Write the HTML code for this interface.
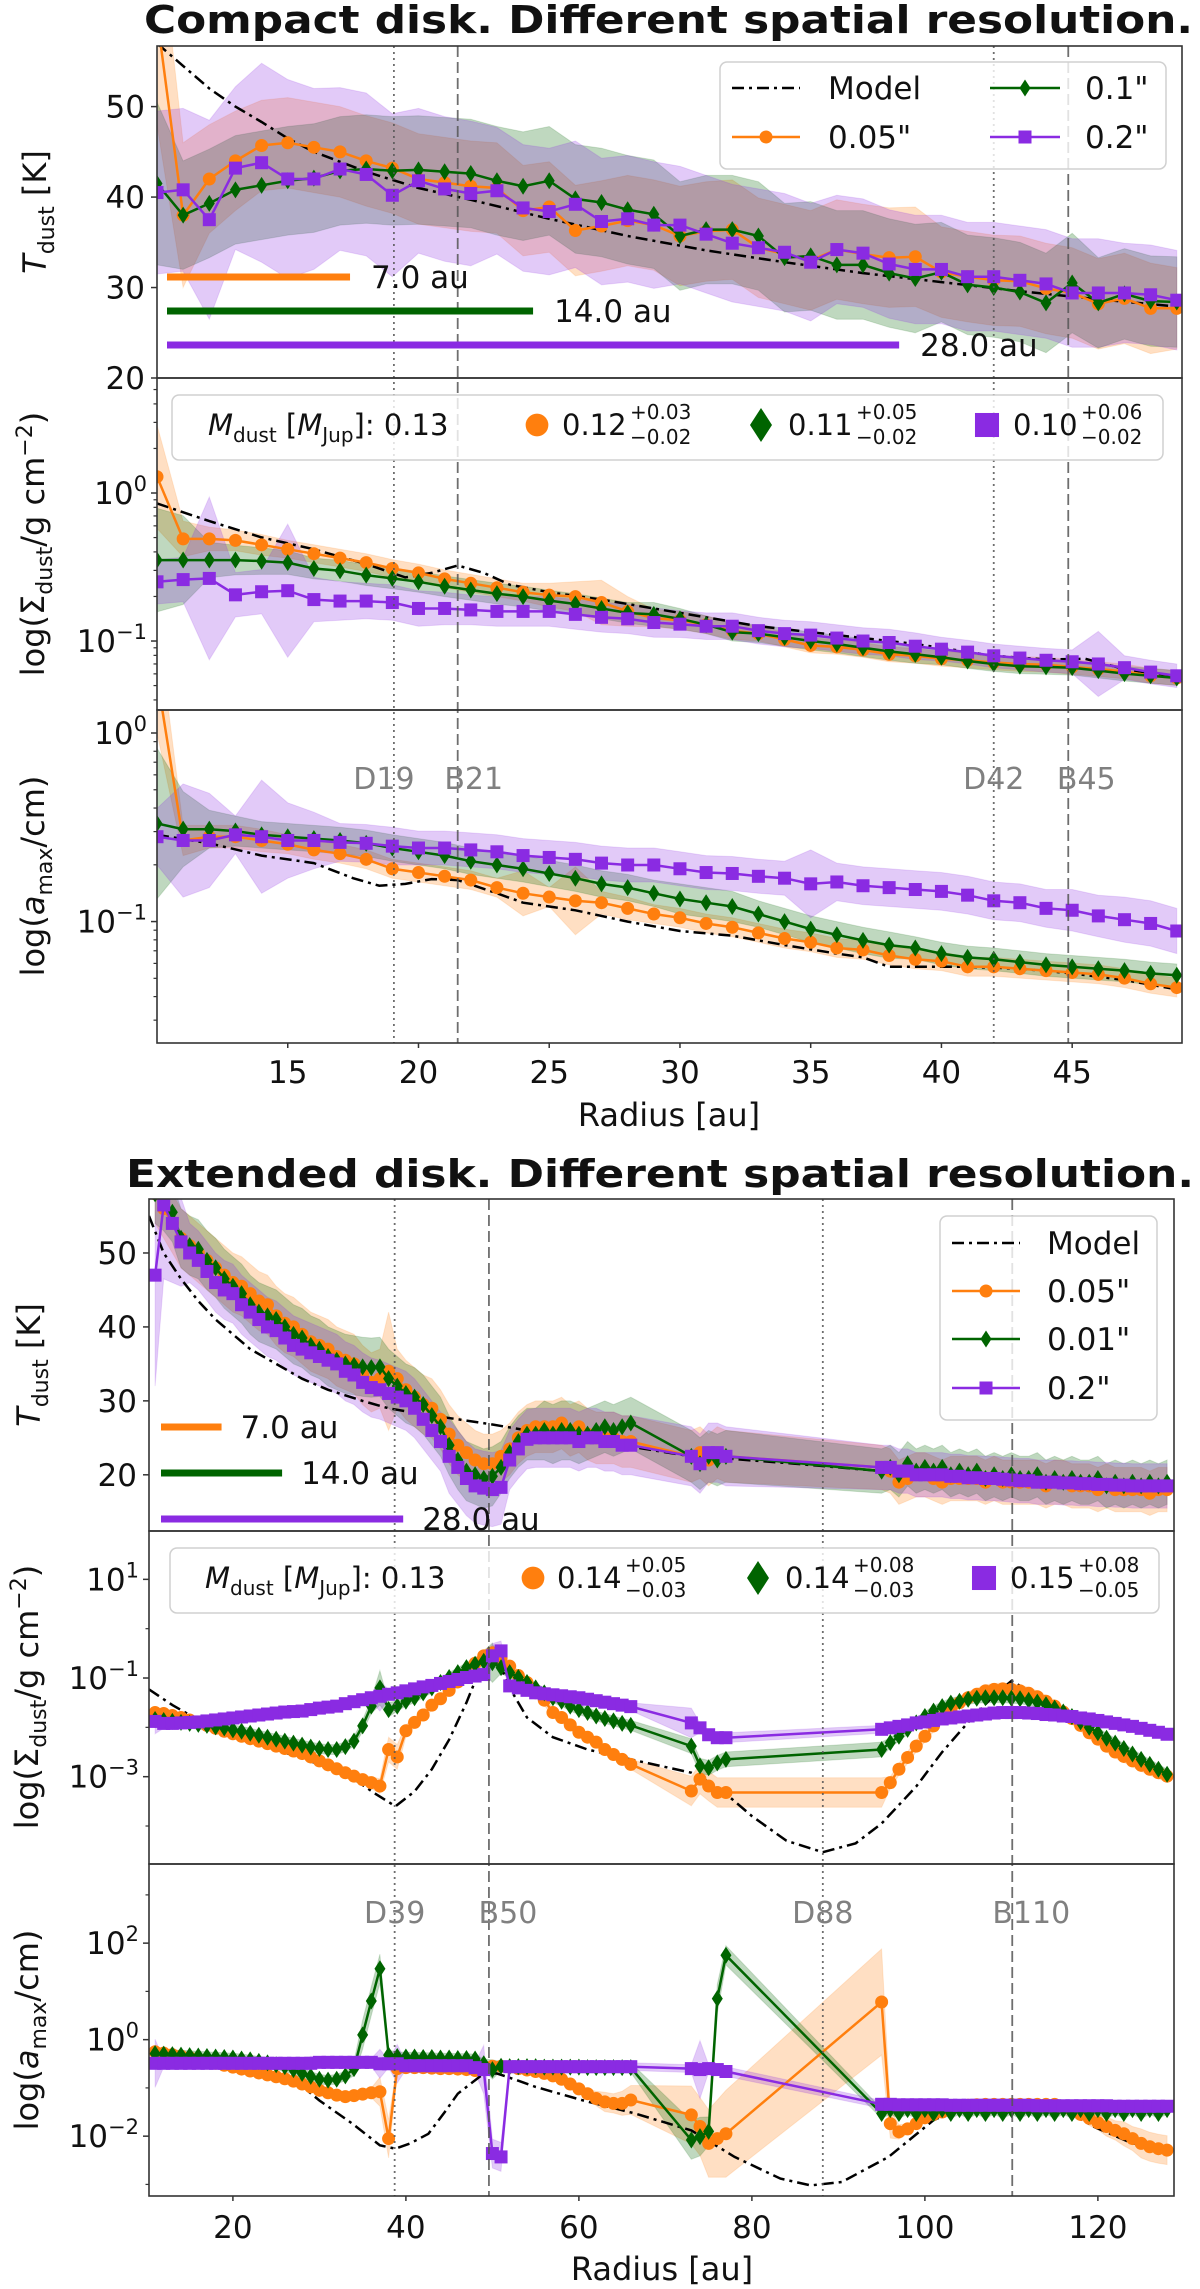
<!DOCTYPE html>
<html><head><meta charset="utf-8">
<style>
body{margin:0;background:#fff}
svg{display:block}
text{font-family:"DejaVu Sans","Liberation Sans",sans-serif;fill:#111}
</style></head>
<body>
<svg id="fig" width="1200" height="2289" viewBox="0 0 1200 2289" xmlns="http://www.w3.org/2000/svg">
  <text x="144" y="33" font-size="38" font-weight="bold" textLength="1049" lengthAdjust="spacingAndGlyphs">Compact disk. Different spatial resolution.</text>
  <text x="126" y="1187" font-size="38" font-weight="bold" textLength="1068" lengthAdjust="spacingAndGlyphs">Extended disk. Different spatial resolution.</text>
</svg>
<script>
// ================= DATA: compact disk =================
const rTop = [10,11,12,13,14,15,16,17,18,19,20,21,22,23,24,25,26,27,28,29,30,31,32,33,34,35,36,37,38,39,40,41,42,43,44,45,46,47,48,49];
const tTopOrange = [60,38,42,44,45.7,46,45.5,45,44,43.2, 42,41.6,41.2,41,38.5,38.9,36.3,36.8,37.4,36.9, 35.7,36.2,36.4,34.4,33.7,33.0,34.2,33.7,33.3,33.4, 31.7,31.2,30.8,30.7,29.9,29.4,28.2,28.8,27.7,27.7];
const tTopGreen = [41.5,38,39.3,40.8,41.3,41.8,42.1,42.9,43.1,42.9, 43,42.8,42.6,41.8,41.2,41.8,39.8,39.4,38.6,38.1, 35.7,36.4,36.4,35.7,33.3,33.5,32.5,32.5,31.6,31.0, 31.7,30.3,30.0,29.5,28.3,30.5,28.3,29.3,28.5,28.4];
const tTopPurple = [40.5,40.8,37.5,43.2,43.8,42,42,43.1,42.5,40.2, 41.8,40.9,40.4,40.7,38.8,38.4,39.2,37.3,37.6,36.9, 36.9,35.9,34.9,34.4,33.9,32.8,34.2,33.8,32.6,32.0, 32.0,31.2,31.2,30.8,30.4,29.4,29.4,29.4,29.2,28.6];
const tTopOrangeErr = [12,8,6,5.5,5,5,5,5,5,5, 5,5,5,5,5,5,5,5,5,5, 5.5,5.5,5.5,5.5,5.5,5.5,5.5,5.5,5.5,5.5, 5,5,5,5,5,5,5,5,5,4.5];
const tTopGreenErr = [9,6,6,6,6,6,6,6,6,6, 6,6,6,6,6,6,6,6,6,6, 6,6,6,6,6,6,6,6,6,6, 5.5,5.5,5.5,5.5,5.5,5.5,5,5,5,5];
const tTopPurpleErr = [9,9,11,9,11,11,10,9,9,9, 8,8,8,7,7,7,7,7,7,7, 6.5,6.5,6.5,6.5,6.5,6.5,6,6,6,6, 6,6,6,6,6,6,6,5.5,5.5,5.5];
const rTopModelT = [10,11,12,13,14,15,16,18,20,22,25,28,31,34,37,40,43,46,49];
const tTopModel = [57,54.5,52,50,48.3,46.5,45,42.8,41,39.7,37.6,35.7,34.1,32.8,31.6,30.6,29.6,28.7,27.9];

// log10(Sigma_dust / g cm^-2)
const sTopOrange = [0.11,-0.31,-0.31,-0.32,-0.35,-0.38,-0.41,-0.44,-0.47,-0.51, -0.54,-0.58,-0.61,-0.64,-0.67,-0.69,-0.70,-0.74,-0.80,-0.845, -0.86,-0.89,-0.93,-0.95,-0.99,-1.03,-1.04,-1.06,-1.09,-1.10, -1.12,-1.13,-1.145,-1.155,-1.16,-1.175,-1.19,-1.205,-1.235,-1.25];
const sTopGreen = [-0.453,-0.453,-0.453,-0.453,-0.46,-0.47,-0.51,-0.525,-0.555,-0.577, -0.6,-0.63,-0.655,-0.68,-0.70,-0.727,-0.75,-0.78,-0.81,-0.82, -0.85,-0.89,-0.94,-0.95,-0.975,-1.0,-1.02,-1.045,-1.07,-1.09, -1.11,-1.135,-1.155,-1.17,-1.175,-1.18,-1.2,-1.22,-1.235,-1.25];
const sTopPurple = [-0.6,-0.585,-0.577,-0.688,-0.667,-0.66,-0.72,-0.73,-0.73,-0.74, -0.78,-0.78,-0.79,-0.80,-0.80,-0.80,-0.82,-0.84,-0.85,-0.875, -0.886,-0.9,-0.9,-0.93,-0.95,-0.96,-0.98,-1.0,-1.01,-1.035, -1.055,-1.075,-1.1,-1.115,-1.13,-1.14,-1.155,-1.18,-1.21,-1.235];
const sTopOrangeErr = [0.35,0.12,0.08,0.07,0.07,0.06,0.06,0.06,0.06,0.06, 0.06,0.06,0.06,0.06,0.06,0.08,0.1,0.15,0.1,0.06, 0.06,0.06,0.06,0.05,0.05,0.05,0.05,0.05,0.05,0.05, 0.05,0.05,0.05,0.05,0.05,0.05,0.05,0.05,0.05,0.05];
const sTopGreenErr = [0.35,0.3,0.12,0.1,0.09,0.08,0.07,0.07,0.07,0.07, 0.07,0.07,0.07,0.07,0.07,0.07,0.07,0.07,0.07,0.08, 0.07,0.06,0.06,0.06,0.06,0.06,0.06,0.06,0.06,0.06, 0.05,0.05,0.05,0.05,0.05,0.05,0.05,0.05,0.05,0.05];
const sTopPurpleErr = [0.15,0.15,0.55,0.15,0.15,0.45,0.15,0.13,0.12,0.12, 0.12,0.11,0.1,0.1,0.1,0.1,0.1,0.1,0.1,0.1, 0.09,0.09,0.09,0.09,0.09,0.09,0.09,0.09,0.09,0.09, 0.08,0.08,0.08,0.08,0.08,0.08,0.22,0.08,0.08,0.08];
const rTopModelS = [10,12,14,16,18,19.5,20.5,21.5,22.5,23.5,25,27,30,33,36,39,42,44,45.5,47,49];
const sTopModel = [-0.07,-0.19,-0.3,-0.38,-0.48,-0.57,-0.54,-0.49,-0.54,-0.62,-0.67,-0.72,-0.81,-0.9,-0.96,-1.02,-1.1,-1.125,-1.12,-1.19,-1.245];

// log10(a_max / cm)
const aTopOrange = [0.3,-0.57,-0.55,-0.55,-0.57,-0.59,-0.62,-0.64,-0.67,-0.72, -0.74,-0.76,-0.78,-0.82,-0.85,-0.87,-0.89,-0.90,-0.93,-0.96, -0.98,-1.01,-1.03,-1.06,-1.09,-1.11,-1.14,-1.15,-1.18,-1.2, -1.21,-1.24,-1.24,-1.25,-1.26,-1.27,-1.28,-1.30,-1.33,-1.35];
const aTopGreen = [-0.48,-0.51,-0.51,-0.52,-0.54,-0.55,-0.56,-0.57,-0.585,-0.61, -0.63,-0.65,-0.68,-0.70,-0.72,-0.745,-0.77,-0.80,-0.82,-0.85, -0.88,-0.90,-0.92,-0.96,-1.0,-1.04,-1.07,-1.10,-1.125,-1.14, -1.17,-1.19,-1.2,-1.215,-1.23,-1.24,-1.25,-1.26,-1.275,-1.285];
const aTopPurple = [-0.55,-0.57,-0.57,-0.54,-0.55,-0.57,-0.57,-0.58,-0.585,-0.6, -0.61,-0.61,-0.62,-0.63,-0.65,-0.66,-0.67,-0.69,-0.70,-0.70, -0.72,-0.74,-0.745,-0.76,-0.77,-0.80,-0.79,-0.81,-0.82,-0.83, -0.84,-0.86,-0.89,-0.9,-0.93,-0.94,-0.97,-0.99,-1.01,-1.05];
const aTopOrangeErr = [0.3,0.08,0.06,0.06,0.06,0.05,0.05,0.05,0.05,0.05, 0.05,0.05,0.05,0.05,0.12,0.05,0.18,0.06,0.06,0.05, 0.05,0.05,0.05,0.05,0.05,0.05,0.05,0.05,0.05,0.05, 0.05,0.05,0.05,0.05,0.05,0.05,0.05,0.05,0.05,0.05];
const aTopGreenErr = [0.4,0.2,0.1,0.08,0.07,0.07,0.07,0.07,0.07,0.07, 0.07,0.07,0.07,0.07,0.07,0.07,0.07,0.07,0.07,0.07, 0.08,0.08,0.08,0.07,0.07,0.07,0.07,0.07,0.07,0.06, 0.06,0.06,0.06,0.06,0.06,0.06,0.06,0.06,0.06,0.06];
const aTopPurpleErr = [0.15,0.3,0.25,0.1,0.3,0.2,0.15,0.1,0.1,0.1, 0.09,0.09,0.09,0.09,0.09,0.09,0.09,0.09,0.09,0.09, 0.09,0.09,0.09,0.09,0.09,0.18,0.1,0.1,0.1,0.1, 0.1,0.1,0.1,0.1,0.1,0.11,0.11,0.12,0.12,0.12];
const rTopModelA = [10,12,14,16,17.5,18.5,19.5,20.5,21.5,23,24,26,28,30,32,34,36,37,38,41,43,45,47,49];
const aTopModel = [-0.54,-0.585,-0.65,-0.69,-0.77,-0.81,-0.80,-0.775,-0.78,-0.85,-0.9,-0.94,-1.0,-1.05,-1.075,-1.125,-1.17,-1.19,-1.24,-1.24,-1.25,-1.275,-1.31,-1.36];

const beamTop = [7, 14, 28];
const beamTopLabels = ['7.0 au','14.0 au','28.0 au'];
const gapTopR = [19.06, 21.5, 42, 44.85];
const gapTopLabels = ['D19','B21','D42','B45'];
const xTicksTop = [15,20,25,30,35,40,45];
const yTicksTopT = [20,30,40,50];
const yTicksTopS = [0,-1];
const yTicksTopA = [0,-1];

// ================= DATA: extended disk =================
const rBot = [11,12,13,14,15,16,17,18,19,20, 21,22,23,24,25,26,27,28,29,30, 31,32,33,34,35,36,37,38,39,40, 41,42,43,44,45,46,47,48,49,50, 51,52,53,54,55,56,57,58,59,60, 61,62,63,64,65,66, 73,74,75,76,77, 95,96,97,98,99,100,101,102,103,104, 105,106,107,108,109,110,111,112,113,114, 115,116,117,118,119,120,121,122,123,124, 125,126,127,128];
const tBotOrange = [58,56,54,52,51,50,49,48,47,46, 45.5,44.5,43.5,43,41.5,40.5,40,39,38,37.5, 37,36,35.5,35,33.5,32.5,33,34,33,31.5, 30.5,29.5,29,27.5,25.5,24,23,22,21.5,21.5, 22.5,23.5,25,26,26.5,26.5,26.5,27,26,26.5, 25.5,25,25,25,24.5,24.5, 22.5,23,22,23,22.5, 21,20.5,19,19.5,20,20,19.5,19,19.5,19.5, 19.5,19.5,19,19.5,19,19,19,19,19,18.5, 19,19,18.5,18.5,18.5,18,18.5,18,18,18, 18,17.5,18,18];
const tBotGreen = [58,57,55.5,52,51,50.5,49,48,46.5,45.5, 44.5,43,42,41.5,41,40,39,38.5,37.5,37, 36,35.5,35,34.8,34.6,34.5,34.6,33,32,31, 30.5,29.5,28,26.5,24,22,20.5,20,19.5,19.8, 21,23,24.5,25.5,25.5,26,25.5,26,26,25.5, 25.5,26,26.5,26,26.5,27, 22.5,21.5,22.5,22,22.5, 20.5,21,20,21.5,20.5,21,20.5,21,20,20.5, 20,20.5,19.5,20,19.5,20,19.5,19.5,20,19, 19.5,19,19.5,19,19,19.5,18.5,19,18.5,19, 18.5,19,18.5,19];
const tBotPurple = [47,56.5,54,51.5,50,49,47.5,46,45,44.5, 43,42,41,40,39.5,38.5,37.5,37,36.5,36, 35.5,35,34,33.5,32.5,31.8,31.5,31,30.5,30, 29,27.5,26,24.5,22.5,21,19.5,18.5,18.2,18, 18.3,22,23.5,24.8,25,25,25,25,25,24.5, 25,25,24.5,24.5,24,24, 22.5,21.5,23,23,22.5, 21,21,20.5,20.5,20,20,20,20,19.8,19.8, 19.6,19.6,19.5,19.5,19.4,19.3,19.2,19.2,19,19, 19,18.9,18.9,18.8,18.8,18.7,18.7,18.6,18.6,18.5, 18.5,18.5,18.5,18.5];
const tBotOrangeErr = [4,4,4,4,4,4,4,4,4,4, 4,4,4,4,4,4,4,4,4,4, 4,4,4,4,4,4,4,8,4,4, 4,4,4,4,4,4,4,4,4,4, 3.5,3.5,3.5,3.5,3.5,3.5,3.5,3.5,3.5,3.5, 3.5,3.5,3.5,3.5,3.5,3.5, 3.5,3.5,3.5,3.5,3.5, 3,3,3,3,3,3,3,3,3,3, 3,3,3,3,3,3,3,3,3,3, 3,3,3,3,3,3,3,3,3,3, 3,3,3,3];
const tBotGreenErr = [4,4,4,4,4,4,4,4,4,4, 4,4,4,4,4,4,4,4,4,4, 4,4,4,4,4,4,4,4,4,4, 4,4,4,4,4,4,4,4,4,4, 3.5,3.5,3.5,3.5,3.5,4,4,4,4,4, 3.5,3.5,3.5,3.5,3.5,3.5, 3.5,3.5,3.5,3.5,3.5, 3,3,3,3,3,3,3,3,3,3, 3,3,3,3,3,3,3,3,3,3, 3,3,3,3,3,3,3,3,3,3, 3,3,3,3];
const tBotPurpleErr = [15,10,8,6,4,4,4,4,4,4, 4,4,4,4,4,4,4,4,4,4, 4,4,4,4,4,4,4,4,4,4, 4,4,4,4,5,5,5,5,5,5, 5,4,4,4,4,4,4,4,4,4, 4,4,4,4,4,4, 4,4,4,4,4, 3,3,3,3,3,3,3,3,3,3, 3,3,3,3,3,3,3,3,3,3, 3,3,3,3,3,3,3,3,3,3, 3,3,3,3];
const rBotModelT = [10.3,12,14,16,18,20,22,25,28,31,35,38,42,46,50,54,60,66,73,76,85,95,105,115,128.8];
const tBotModel = [55,50,46.5,43.5,41,39,37,35,33,31.5,30,29,28.2,27.5,26.8,26,25,23.8,22.5,22.3,21.5,20.5,19.8,19.3,18.8];

const sBotOrange = [-1.70,-1.72,-1.76,-1.80,-1.85,-1.90,-1.96,-2.02,-2.08,-2.13, -2.18,-2.23,-2.28,-2.33,-2.38,-2.43,-2.48,-2.53,-2.60,-2.68, -2.76,-2.84,-2.92,-2.99,-3.06,-3.12,-3.19,-2.45,-2.6,-2.07, -1.9,-1.75,-1.55,-1.42,-1.25,-1.08,-0.9,-0.7,-0.55,-0.49, -0.59,-0.76,-0.95,-1.09,-1.3,-1.45,-1.7,-1.8,-1.95,-2.1, -2.2,-2.3,-2.45,-2.55,-2.65,-2.75, -3.29,-3.05,-3.19,-3.32,-3.32, -3.32,-3.12,-2.85,-2.61,-2.38,-2.18,-1.97,-1.80,-1.64,-1.50, -1.40,-1.33,-1.26,-1.23,-1.22,-1.23,-1.26,-1.31,-1.38,-1.47, -1.57,-1.69,-1.82,-1.96,-2.11,-2.24,-2.38,-2.50,-2.59,-2.68, -2.77,-2.85,-2.92,-2.99];
const sBotGreen = [-1.84,-1.86,-1.88,-1.90,-1.92,-1.94,-1.96,-1.99,-2.01,-2.05, -2.08,-2.12,-2.16,-2.20,-2.24,-2.28,-2.32,-2.36,-2.40,-2.43, -2.45,-2.45,-2.39,-2.28,-1.97,-1.57,-1.20,-1.64,-1.57,-1.47, -1.40,-1.30,-1.20,-1.09,-0.99,-0.89,-0.79,-0.72,-0.66,-0.69, -0.79,-0.89,-0.99,-1.09,-1.20,-1.30,-1.40,-1.47,-1.57,-1.64, -1.70,-1.77,-1.82,-1.87,-1.92,-1.96, -2.38,-2.78,-2.82,-2.72,-2.65, -2.45,-2.31,-2.18,-2.04,-1.91,-1.78,-1.67,-1.58,-1.51,-1.47, -1.43,-1.41,-1.40,-1.40,-1.40,-1.41,-1.42,-1.45,-1.49,-1.54, -1.61,-1.69,-1.78,-1.89,-2.00,-2.11,-2.22,-2.32,-2.43,-2.54, -2.65,-2.75,-2.85,-2.95];
const sBotPurple = [-1.88,-1.92,-1.92,-1.91,-1.90,-1.89,-1.87,-1.85,-1.83,-1.81, -1.79,-1.77,-1.75,-1.73,-1.71,-1.69,-1.68,-1.67,-1.64,-1.61, -1.59,-1.57,-1.52,-1.48,-1.44,-1.40,-1.37,-1.33,-1.30,-1.26, -1.22,-1.18,-1.15,-1.11,-1.07,-1.03,-0.99,-0.96,-0.93,-0.55, -0.45,-1.16,-1.20,-1.25,-1.30,-1.32,-1.34,-1.36,-1.38,-1.40, -1.43,-1.46,-1.49,-1.52,-1.55,-1.58, -1.91,-2.01,-2.15,-2.21,-2.21, -2.04,-2.01,-1.98,-1.95,-1.91,-1.89,-1.86,-1.83,-1.81,-1.79, -1.77,-1.75,-1.73,-1.71,-1.70,-1.70,-1.70,-1.71,-1.72,-1.74, -1.75,-1.77,-1.78,-1.81,-1.83,-1.86,-1.89,-1.92,-1.95,-1.98, -2.02,-2.06,-2.10,-2.14];
const sBotOrangeErr = [0.1,0.1,0.1,0.1,0.1,0.1,0.1,0.1,0.1,0.1, 0.1,0.1,0.1,0.1,0.1,0.1,0.1,0.1,0.1,0.1, 0.1,0.1,0.1,0.1,0.1,0.12,0.15,0.25,0.25,0.12, 0.1,0.1,0.1,0.1,0.1,0.1,0.1,0.1,0.12,0.15, 0.12,0.1,0.1,0.1,0.1,0.1,0.1,0.1,0.1,0.1, 0.1,0.1,0.1,0.1,0.1,0.1, 0.3,0.3,0.3,0.3,0.3, 0.3,0.12,0.12,0.12,0.12,0.12,0.12,0.12,0.12,0.12, 0.12,0.12,0.12,0.12,0.12,0.12,0.12,0.12,0.12,0.12, 0.12,0.12,0.12,0.12,0.12,0.12,0.12,0.12,0.12,0.12, 0.12,0.12,0.12,0.12];
const sBotGreenErr = [0.1,0.1,0.1,0.1,0.1,0.1,0.1,0.1,0.1,0.1, 0.1,0.1,0.1,0.1,0.1,0.1,0.1,0.1,0.1,0.1, 0.1,0.1,0.1,0.1,0.12,0.15,0.35,0.15,0.1,0.1, 0.1,0.1,0.1,0.1,0.1,0.1,0.1,0.12,0.2,0.4, 0.12,0.1,0.1,0.1,0.1,0.1,0.1,0.1,0.1,0.1, 0.1,0.1,0.1,0.1,0.1,0.1, 0.15,0.15,0.15,0.15,0.15, 0.15,0.1,0.1,0.1,0.1,0.1,0.1,0.1,0.1,0.1, 0.1,0.1,0.1,0.1,0.1,0.1,0.1,0.1,0.1,0.1, 0.1,0.1,0.1,0.1,0.1,0.1,0.1,0.1,0.1,0.1, 0.1,0.1,0.1,0.1];
const sBotPurpleErr = [0.25,0.1,0.08,0.08,0.08,0.08,0.08,0.08,0.08,0.08, 0.08,0.08,0.08,0.08,0.08,0.08,0.08,0.08,0.1,0.1, 0.08,0.08,0.08,0.08,0.08,0.08,0.3,0.1,0.1,0.08, 0.08,0.08,0.08,0.08,0.08,0.08,0.08,0.08,0.08,0.25, 0.2,0.08,0.08,0.08,0.08,0.08,0.08,0.08,0.08,0.08, 0.08,0.08,0.08,0.08,0.08,0.08, 0.3,0.1,0.1,0.1,0.1, 0.08,0.08,0.08,0.08,0.08,0.08,0.08,0.08,0.08,0.08, 0.08,0.08,0.08,0.08,0.08,0.08,0.08,0.08,0.08,0.08, 0.08,0.08,0.08,0.08,0.08,0.08,0.08,0.08,0.08,0.08, 0.08,0.08,0.08,0.08];
const rBotModelS = [10.3,13,16,20,25,30,34,36.5,38.8,41,43,45,47,48.5,49.7,51,52.5,54,57,61,66,73,76,80,84,88.2,92,95,99,102,105,108,110,113,117,121,125,128.8];
const sBotModel = [-1.23,-1.55,-1.85,-2.15,-2.45,-2.75,-3.05,-3.35,-3.6,-3.3,-2.85,-2.25,-1.5,-0.85,-0.35,-0.8,-1.35,-1.8,-2.2,-2.45,-2.65,-2.92,-3.2,-3.8,-4.3,-4.53,-4.35,-3.95,-3.2,-2.5,-1.9,-1.35,-1.06,-1.35,-1.8,-2.3,-2.65,-2.99];

const aBotOrange = [-0.25,-0.28,-0.31,-0.34,-0.37,-0.41,-0.45,-0.49,-0.53,-0.57, -0.61,-0.65,-0.69,-0.73,-0.77,-0.81,-0.86,-0.92,-0.98,-1.05, -1.1,-1.15,-1.18,-1.16,-1.13,-1.1,-1.08,-2.05,-0.6,-0.58, -0.58,-0.58,-0.59,-0.6,-0.6,-0.61,-0.62,-0.64,-0.62,-0.55, -0.55,-0.57,-0.6,-0.63,-0.66,-0.7,-0.75,-0.82,-0.92,-1.02, -1.12,-1.22,-1.29,-1.32,-1.32,-1.25, -1.56,-1.8,-2.15,-2.05,-1.95, 0.78,-1.74,-1.91,-1.85,-1.74,-1.62,-1.55,-1.5,-1.44,-1.4, -1.36,-1.35,-1.34,-1.34,-1.34,-1.34,-1.34,-1.34,-1.34,-1.34, -1.34,-1.40,-1.47,-1.55,-1.63,-1.72,-1.80,-1.88,-1.95,-2.05, -2.15,-2.22,-2.26,-2.29];
const aBotGreen = [-0.29,-0.3,-0.31,-0.32,-0.33,-0.34,-0.35,-0.36,-0.37,-0.38, -0.4,-0.42,-0.45,-0.48,-0.52,-0.56,-0.62,-0.7,-0.76,-0.82, -0.84,-0.82,-0.75,-0.6,0.1,0.8,1.47,-0.32,-0.35,-0.36, -0.36,-0.37,-0.37,-0.38,-0.38,-0.39,-0.39,-0.4,-0.5,-0.62, -0.55,-0.56,-0.56,-0.56,-0.56,-0.57,-0.57,-0.57,-0.57,-0.57, -0.58,-0.58,-0.58,-0.58,-0.58,-0.58, -2.08,-2.01,-1.9,0.85,1.75, -1.53,-1.45,-1.53,-1.45,-1.53,-1.45,-1.53,-1.45,-1.53,-1.45, -1.53,-1.45,-1.53,-1.45,-1.53,-1.45,-1.53,-1.45,-1.53,-1.45, -1.53,-1.45,-1.53,-1.45,-1.53,-1.45,-1.53,-1.45,-1.53,-1.45, -1.53,-1.45,-1.53,-1.45];
const aBotPurple = [-0.49,-0.49,-0.49,-0.49,-0.49,-0.49,-0.49,-0.49,-0.49,-0.49, -0.49,-0.49,-0.49,-0.49,-0.49,-0.49,-0.49,-0.49,-0.49,-0.47, -0.47,-0.47,-0.47,-0.47,-0.47,-0.47,-0.5,-0.5,-0.5,-0.54, -0.54,-0.54,-0.54,-0.54,-0.54,-0.54,-0.54,-0.58,-0.62,-2.36, -2.43,-0.56,-0.56,-0.56,-0.56,-0.56,-0.56,-0.56,-0.56,-0.56, -0.56,-0.56,-0.56,-0.56,-0.56,-0.56, -0.6,-0.62,-0.6,-0.62,-0.66, -1.34,-1.34,-1.35,-1.35,-1.35,-1.35,-1.35,-1.35,-1.36,-1.36, -1.36,-1.36,-1.36,-1.36,-1.36,-1.36,-1.36,-1.36,-1.37,-1.37, -1.37,-1.37,-1.37,-1.37,-1.37,-1.37,-1.37,-1.38,-1.38,-1.38, -1.38,-1.38,-1.38,-1.38];
const aBotOrangeErr = [0.1,0.1,0.1,0.1,0.1,0.1,0.1,0.1,0.1,0.1, 0.1,0.1,0.1,0.1,0.1,0.1,0.1,0.1,0.1,0.1, 0.1,0.1,0.1,0.1,0.1,0.1,0.3,0.4,0.1,0.1, 0.1,0.1,0.1,0.1,0.1,0.1,0.1,0.1,0.1,0.1, 0.1,0.1,0.1,0.1,0.1,0.1,0.1,0.1,0.1,0.1, 0.1,0.15,0.2,0.2,0.25,0.3, 0.6,0.6,0.7,0.8,0.9, 1.1,0.3,0.15,0.1,0.1,0.1,0.1,0.1,0.1,0.1, 0.1,0.1,0.1,0.1,0.1,0.1,0.1,0.1,0.1,0.1, 0.1,0.1,0.1,0.1,0.15,0.15,0.2,0.2,0.25,0.25, 0.3,0.3,0.3,0.3];
const aBotGreenErr = [0.1,0.1,0.1,0.1,0.1,0.1,0.1,0.1,0.1,0.1, 0.1,0.1,0.1,0.1,0.1,0.1,0.1,0.1,0.1,0.1, 0.1,0.1,0.1,0.15,0.3,0.3,0.3,0.1,0.1,0.1, 0.1,0.1,0.1,0.1,0.1,0.1,0.1,0.1,0.1,0.2, 0.1,0.1,0.1,0.1,0.1,0.1,0.1,0.1,0.1,0.1, 0.1,0.1,0.1,0.1,0.1,0.1, 0.4,0.4,0.3,0.3,0.2, 0.1,0.1,0.1,0.1,0.1,0.1,0.1,0.1,0.1,0.1, 0.1,0.1,0.1,0.1,0.1,0.1,0.1,0.1,0.1,0.1, 0.1,0.1,0.1,0.1,0.1,0.1,0.1,0.1,0.1,0.1, 0.1,0.1,0.1,0.1];
const aBotPurpleErr = [0.5,0.08,0.08,0.08,0.08,0.08,0.08,0.08,0.08,0.08, 0.08,0.08,0.08,0.08,0.08,0.08,0.08,0.08,0.15,0.08, 0.08,0.08,0.08,0.08,0.08,0.08,0.3,0.08,0.4,0.08, 0.08,0.08,0.08,0.08,0.08,0.08,0.08,0.1,0.5,0.3, 0.3,0.08,0.08,0.08,0.08,0.08,0.08,0.08,0.08,0.08, 0.08,0.08,0.08,0.08,0.08,0.08, 0.08,0.6,0.08,0.08,0.1, 0.08,0.08,0.08,0.08,0.08,0.08,0.08,0.08,0.08,0.08, 0.08,0.08,0.08,0.08,0.08,0.08,0.08,0.08,0.08,0.08, 0.08,0.08,0.08,0.08,0.08,0.08,0.08,0.08,0.08,0.08, 0.08,0.08,0.08,0.08];
const rBotModelA = [10.3,15,20,26.7,30,33.8,37,38.8,40.5,42.6,44.5,46,48.8,50.5,53,55,60.3,66.5,73,78,83.3,86.8,90.4,95.8,101,104.5,110,115,119.6,124,128.8];
const aBotModel = [-0.29,-0.4,-0.55,-0.77,-1.26,-1.74,-2.19,-2.26,-2.15,-1.95,-1.5,-1.12,-0.73,-0.70,-0.85,-0.98,-1.25,-1.53,-1.88,-2.43,-2.88,-3.02,-2.95,-2.43,-1.67,-1.39,-1.34,-1.34,-1.81,-2.15,-2.29];

const beamBot = [7, 14, 28];
const beamBotLabels = ['7.0 au','14.0 au','28.0 au'];
const gapBotR = [38.7, 49.6, 88.2, 110.1];
const gapBotLabels = ['D39','B50','D88','B110'];
const xTicksBot = [20,40,60,80,100,120];
const yTicksBotT = [20,30,40,50];
const yTicksBotS = [1,-1,-3];
const yTicksBotA = [2,0,-2];

// ================= rendering =================
const NS = 'http://www.w3.org/2000/svg';
const svg = document.getElementById('fig');
const C_OR = '#ff7f0e', C_GR = '#006400', C_PU = '#8a2be2';
const FS_TICK = 31, FS_LEG = 31, FS_MASS = 29;

function mk(tag, attrs, parent) {
  const e = document.createElementNS(NS, tag);
  for (const k in attrs) e.setAttribute(k, attrs[k]);
  (parent || svg).appendChild(e);
  return e;
}
function xScale(d0, d1, p0, p1) { return r => p0 + (r - d0) / (d1 - d0) * (p1 - p0); }
function yScale(v0, v1, pBot, pTop) { return v => pBot - (v - v0) / (v1 - v0) * (pBot - pTop); }

let clipN = 0;
function panel(name, x0, x1, y0, y1) {
  const id = 'clip' + (clipN++);
  const cp = mk('clipPath', {id: id});
  mk('rect', {x: x0, y: y0, width: x1 - x0, height: y1 - y0}, cp);
  const g = mk('g', {'clip-path': 'url(#' + id + ')'});
  
  
  return g;
}
function frame(name, x0, x1, y0, y1) {
  const f = mk('rect', {x: x0, y: y0, width: x1 - x0, height: y1 - y0, fill: 'none', stroke: '#333', 'stroke-width': 1.6});
  
  
}
function band(g, rs, vs, es, xf, yf, color, name) {
  const up = [], lo = [];
  for (let i = 0; i < rs.length; i++) {
    up.push(xf(rs[i]).toFixed(1) + ',' + yf(vs[i] + es[i]).toFixed(1));
    lo.unshift(xf(rs[i]).toFixed(1) + ',' + yf(vs[i] - es[i]).toFixed(1));
  }
  const p = mk('polygon', {points: up.concat(lo).join(' '), fill: color, 'fill-opacity': 0.25, stroke: color, 'stroke-opacity': 0.15}, g);
  
  
}
function modelLine(g, rs, vs, xf, yf, name) {
  const pts = rs.map((r, i) => xf(r).toFixed(1) + ',' + yf(vs[i]).toFixed(1)).join(' ');
  const l = mk('polyline', {points: pts, fill: 'none', stroke: '#000', 'stroke-width': 2.5, 'stroke-dasharray': '12,5,3,5'}, g);
  
  
}
function marker(g, type, cx, cy, color, s) {
  let m;
  if (type === 'circle') m = mk('circle', {cx: cx, cy: cy, r: 6.5 * s, fill: color}, g);
  else if (type === 'square') m = mk('rect', {x: cx - 6.5 * s, y: cy - 6.5 * s, width: 13 * s, height: 13 * s, fill: color}, g);
  else m = mk('polygon', {points: (cx) + ',' + (cy - 8.5 * s) + ' ' + (cx + 5.5 * s) + ',' + cy + ' ' + cx + ',' + (cy + 8.5 * s) + ' ' + (cx - 5.5 * s) + ',' + cy, fill: color}, g);
  return m;
}
function series(g, rs, vs, xf, yf, color, type, name) {
  const pts = rs.map((r, i) => xf(r).toFixed(1) + ',' + yf(vs[i]).toFixed(1)).join(' ');
  const l = mk('polyline', {points: pts, fill: 'none', stroke: color, 'stroke-width': 2.5}, g);
  
  
  for (let i = 0; i < rs.length; i++) {
    const m = marker(g, type, xf(rs[i]), yf(vs[i]), color, 1);
    
    
  }
}
function supLabel(x, y, base, exp, anchor, name) {
  const t = mk('text', {x: x, y: y, 'font-size': FS_TICK, 'text-anchor': anchor});
  
  
  const a = mk('tspan', {}, t); a.textContent = base;
  const b = mk('tspan', {dy: -13, 'font-size': 21}, t); b.textContent = exp;
  return t;
}
function yTicksLin(ticks, x0, yf, name) {
  ticks.forEach(v => {
    const y = yf(v);
    const tk = mk('line', {x1: x0 - 6, x2: x0, y1: y, y2: y, stroke: '#333', 'stroke-width': 1.5});
    
    
    const t = mk('text', {x: x0 - 12, y: y + 11, 'font-size': FS_TICK, 'text-anchor': 'end'});
    
    
    t.textContent = String(v);
  });
}
function yTicksLog(ticks, x0, yf, v0, v1, name) {
  ticks.forEach(v => {
    const y = yf(v);
    const tk = mk('line', {x1: x0 - 6, x2: x0, y1: y, y2: y, stroke: '#333', 'stroke-width': 1.5});
    
    
    supLabel(x0 - 10, y + 11, '10', (v < 0 ? '\u2212' + (-v) : String(v)), 'end', name + '-tick-label');
  });
  const step = ticks.length > 1 ? Math.abs(ticks[0] - ticks[1]) : 1;
  for (let d = Math.floor(v0); d <= Math.ceil(v1); d++) {
    const subs = step === 1 ? [2,3,4,5,6,7,8,9] : [1];
    subs.forEach(k => {
      const lv = d + Math.log10(k);
      if (step !== 1 && ticks.indexOf(d) >= 0) return;
      if (lv <= v0 || lv >= v1) return;
      const y = yf(lv);
      const mt = mk('line', {x1: x0 - 3.5, x2: x0, y1: y, y2: y, stroke: '#333', 'stroke-width': 1.2});
      
      
    });
  }
}
function yLabel(x, y, parts, name) {
  const t = mk('text', {x: 0, y: 0, 'font-size': 32, 'text-anchor': 'middle', transform: 'translate(' + x + ',' + y + ') rotate(-90)'});
  
  
  parts.forEach(p => {
    const s = mk('tspan', p.a || {}, t);
    s.textContent = p.t;
  });
}
function gapLines(rs, labels, offs, xf, yTop, yBot, labelY, name) {
  rs.forEach((r, i) => {
    const x = xf(r);
    const isB = labels[i][0] === 'B';
    const l = mk('line', {x1: x, x2: x, y1: yTop, y2: yBot, stroke: '#555', 'stroke-width': 1.8, 'stroke-dasharray': isB ? '11,5' : '2,4', 'stroke-opacity': 0.85});
    
    
    const t = mk('text', {x: x + offs[i], y: labelY, 'font-size': 30, 'text-anchor': 'middle', fill: '#808080', style: 'fill:#808080'});
    
    
    t.textContent = labels[i];
  });
}
function beams(beamsAu, labels, x0, ys, scalePerAu, labelGap, name) {
  const cols = [C_OR, C_GR, C_PU];
  beamsAu.forEach((b, i) => {
    const w = b * scalePerAu;
    const bar = mk('line', {x1: x0, x2: x0 + w, y1: ys[i], y2: ys[i], stroke: cols[i], 'stroke-width': 7});
    
    
    const t = mk('text', {x: x0 + w + labelGap, y: ys[i] + 11, 'font-size': 31});
    
    
    t.textContent = labels[i];
  });
}
function legendT(bx, by, bw, bh, entries, name) {
  const box = mk('rect', {x: bx, y: by, width: bw, height: bh, rx: 7, fill: '#fff', 'fill-opacity': 0.8, stroke: '#d0d0d0', 'stroke-width': 1.5});
  
  
  entries.forEach(e => {
    let h;
    if (e.model) {
      h = mk('line', {x1: e.hx0, x2: e.hx1, y1: e.y, y2: e.y, stroke: '#000', 'stroke-width': 2.5, 'stroke-dasharray': '12,5,3,5'});
    } else {
      h = mk('line', {x1: e.hx0, x2: e.hx1, y1: e.y, y2: e.y, stroke: e.c, 'stroke-width': 2.5});
      const m = marker(svg, e.m, (e.hx0 + e.hx1) / 2, e.y, e.c, 1);
      
      
    }
    
    
    const t = mk('text', {x: e.tx, y: e.y + 11, 'font-size': FS_LEG});
    
    
    t.textContent = e.t;
  });
}
function legendMass(bx, by, bw, bh, ty, mx, total, items, name) {
  const box = mk('rect', {x: bx, y: by, width: bw, height: bh, rx: 7, fill: '#fff', 'fill-opacity': 0.8, stroke: '#d0d0d0', 'stroke-width': 1.5});
  
  
  const t = mk('text', {x: mx, y: ty, 'font-size': FS_MASS});
  
  
  const parts = [['M', {'font-style': 'italic'}], ['dust', {'font-size': 20, dy: 7}], [' [', {dy: -7}], ['M', {'font-style': 'italic'}], ['Jup', {'font-size': 20, dy: 7}], [']: ' + total, {dy: -7}]];
  parts.forEach(p => { const s = mk('tspan', p[1], t); s.textContent = p[0]; });
  items.forEach(it => {
    const m = marker(svg, it.m, it.mx, ty - 10, it.c, it.m === 'diamond' ? 2 : (it.m === 'circle' ? 1.75 : 1.85));
    
    
    const v = mk('text', {x: it.tx, y: ty, 'font-size': FS_MASS});
    
    
    v.textContent = it.v;
    const up = mk('text', {x: it.tx + 68, y: ty - 16, 'font-size': 20});
    
    
    up.textContent = it.up;
    const dn = mk('text', {x: it.tx + 68, y: ty + 9, 'font-size': 20});
    
    
    dn.textContent = it.dn;
  });
}

// ---------------- compact disk ----------------
(function () {
  const X0 = 157, X1 = 1182;
  const xf = xScale(10, 49.2, X0, X1);
  const P = [[46, 378], [378, 710], [710, 1043]];
  const yT = yScale(20, 56.7, P[0][1], P[0][0]);
  const yS = yScale(-1.466, 0.777, P[1][1], P[1][0]);
  const yA = yScale(-1.644, 0.122, P[2][1], P[2][0]);

  const g1 = panel('compact-temperature', X0, X1, P[0][0], P[0][1]);
  band(g1, rTop, tTopOrange, tTopOrangeErr, xf, yT, C_OR, 'compact-temp-band-005');
  band(g1, rTop, tTopGreen, tTopGreenErr, xf, yT, C_GR, 'compact-temp-band-01');
  band(g1, rTop, tTopPurple, tTopPurpleErr, xf, yT, C_PU, 'compact-temp-band-02');
  modelLine(g1, rTopModelT, tTopModel, xf, yT, 'compact-temp-model');
  series(g1, rTop, tTopOrange, xf, yT, C_OR, 'circle', 'compact-temp-005');
  series(g1, rTop, tTopGreen, xf, yT, C_GR, 'diamond', 'compact-temp-01');
  series(g1, rTop, tTopPurple, xf, yT, C_PU, 'square', 'compact-temp-02');

  const g2 = panel('compact-surface-density', X0, X1, P[1][0], P[1][1]);
  band(g2, rTop, sTopOrange, sTopOrangeErr, xf, yS, C_OR, 'compact-sigma-band-005');
  band(g2, rTop, sTopGreen, sTopGreenErr, xf, yS, C_GR, 'compact-sigma-band-01');
  band(g2, rTop, sTopPurple, sTopPurpleErr, xf, yS, C_PU, 'compact-sigma-band-02');
  modelLine(g2, rTopModelS, sTopModel, xf, yS, 'compact-sigma-model');
  series(g2, rTop, sTopOrange, xf, yS, C_OR, 'circle', 'compact-sigma-005');
  series(g2, rTop, sTopGreen, xf, yS, C_GR, 'diamond', 'compact-sigma-01');
  series(g2, rTop, sTopPurple, xf, yS, C_PU, 'square', 'compact-sigma-02');

  const g3 = panel('compact-grain-size', X0, X1, P[2][0], P[2][1]);
  band(g3, rTop, aTopOrange, aTopOrangeErr, xf, yA, C_OR, 'compact-amax-band-005');
  band(g3, rTop, aTopGreen, aTopGreenErr, xf, yA, C_GR, 'compact-amax-band-01');
  band(g3, rTop, aTopPurple, aTopPurpleErr, xf, yA, C_PU, 'compact-amax-band-02');
  modelLine(g3, rTopModelA, aTopModel, xf, yA, 'compact-amax-model');
  series(g3, rTop, aTopOrange, xf, yA, C_OR, 'circle', 'compact-amax-005');
  series(g3, rTop, aTopGreen, xf, yA, C_GR, 'diamond', 'compact-amax-01');
  series(g3, rTop, aTopPurple, xf, yA, C_PU, 'square', 'compact-amax-02');

  gapLines(gapTopR, gapTopLabels, [-10, 16, 0, 18], xf, P[0][0], P[2][1], 789, 'compact-gap');
  beams(beamTop, beamTopLabels, 167, [277, 311, 345], (X1 - X0) / 39.2, 21, 'compact');

  P.forEach((p, i) => frame('compact-panel-' + (i + 1), X0, X1, p[0], p[1]));
  yTicksLin(yTicksTopT, X0, yT, 'compact-temp-y');
  yTicksLog(yTicksTopS, X0, yS, -1.466, 0.777, 'compact-sigma-y');
  yTicksLog(yTicksTopA, X0, yA, -1.644, 0.122, 'compact-amax-y');
  xTicksTop.forEach(v => {
    const x = xf(v);
    const tk = mk('line', {x1: x, x2: x, y1: 1043, y2: 1048, stroke: '#333', 'stroke-width': 1.5});
    
    
    const t = mk('text', {x: x, y: 1083, 'font-size': FS_TICK, 'text-anchor': 'middle'});
    
    
    t.textContent = String(v);
  });
  const xl = mk('text', {x: 669, y: 1126, 'font-size': 32, 'text-anchor': 'middle'});
  
  
  xl.textContent = 'Radius [au]';

  yLabel(46, 212, [{t: 'T', a: {'font-style': 'italic'}}, {t: 'dust', a: {'font-size': 22, dy: 8}}, {t: ' [K]', a: {dy: -8}}], 'compact-temp-y-axis-title');
  yLabel(44, 544, [{t: 'log(\u03A3'}, {t: 'dust', a: {'font-size': 22, dy: 8}}, {t: '/g cm', a: {dy: -8}}, {t: '\u22122', a: {'font-size': 22, dy: -12}}, {t: ')', a: {dy: 12}}], 'compact-sigma-y-axis-title');
  yLabel(44, 876, [{t: 'log('}, {t: 'a', a: {'font-style': 'italic'}}, {t: 'max', a: {'font-size': 22, dy: 8}}, {t: '/cm)', a: {dy: -8}}], 'compact-amax-y-axis-title');

  legendT(720, 62, 446, 107, [
    {model: true, hx0: 732, hx1: 800, y: 88, tx: 828, t: 'Model'},
    {c: C_OR, m: 'circle', hx0: 732, hx1: 800, y: 137, tx: 828, t: '0.05"'},
    {c: C_GR, m: 'diamond', hx0: 990, hx1: 1060, y: 88, tx: 1085, t: '0.1"'},
    {c: C_PU, m: 'square', hx0: 990, hx1: 1060, y: 137, tx: 1085, t: '0.2"'}
  ], 'compact-temp-legend');
  legendMass(172, 395, 991, 65, 435, 208, '0.13', [
    {m: 'circle', c: C_OR, mx: 537, tx: 562, v: '0.12', up: '+0.03', dn: '\u22120.02'},
    {m: 'diamond', c: C_GR, mx: 761, tx: 788, v: '0.11', up: '+0.05', dn: '\u22120.02'},
    {m: 'square', c: C_PU, mx: 987, tx: 1013, v: '0.10', up: '+0.06', dn: '\u22120.02'}
  ], 'compact-mass-legend');
})();

// ---------------- extended disk ----------------
(function () {
  const X0 = 149, X1 = 1174;
  const xf = xScale(10.3, 128.8, X0, X1);
  const P = [[1199, 1531], [1531, 1864], [1864, 2196]];
  const yT = yScale(12.4, 57.3, P[0][1], P[0][0]);
  const yS = yScale(-4.77, 1.98, P[1][1], P[1][0]);
  const yA = yScale(-3.24, 3.64, P[2][1], P[2][0]);

  const g1 = panel('extended-temperature', X0, X1, P[0][0], P[0][1]);
  band(g1, rBot, tBotOrange, tBotOrangeErr, xf, yT, C_OR, 'extended-temp-band-005');
  band(g1, rBot, tBotGreen, tBotGreenErr, xf, yT, C_GR, 'extended-temp-band-001');
  band(g1, rBot, tBotPurple, tBotPurpleErr, xf, yT, C_PU, 'extended-temp-band-02');
  modelLine(g1, rBotModelT, tBotModel, xf, yT, 'extended-temp-model');
  series(g1, rBot, tBotOrange, xf, yT, C_OR, 'circle', 'extended-temp-005');
  series(g1, rBot, tBotGreen, xf, yT, C_GR, 'diamond', 'extended-temp-001');
  series(g1, rBot, tBotPurple, xf, yT, C_PU, 'square', 'extended-temp-02');

  const g2 = panel('extended-surface-density', X0, X1, P[1][0], P[1][1]);
  band(g2, rBot, sBotOrange, sBotOrangeErr, xf, yS, C_OR, 'extended-sigma-band-005');
  band(g2, rBot, sBotGreen, sBotGreenErr, xf, yS, C_GR, 'extended-sigma-band-001');
  band(g2, rBot, sBotPurple, sBotPurpleErr, xf, yS, C_PU, 'extended-sigma-band-02');
  modelLine(g2, rBotModelS, sBotModel, xf, yS, 'extended-sigma-model');
  series(g2, rBot, sBotOrange, xf, yS, C_OR, 'circle', 'extended-sigma-005');
  series(g2, rBot, sBotGreen, xf, yS, C_GR, 'diamond', 'extended-sigma-001');
  series(g2, rBot, sBotPurple, xf, yS, C_PU, 'square', 'extended-sigma-02');

  const g3 = panel('extended-grain-size', X0, X1, P[2][0], P[2][1]);
  band(g3, rBot, aBotOrange, aBotOrangeErr, xf, yA, C_OR, 'extended-amax-band-005');
  band(g3, rBot, aBotGreen, aBotGreenErr, xf, yA, C_GR, 'extended-amax-band-001');
  band(g3, rBot, aBotPurple, aBotPurpleErr, xf, yA, C_PU, 'extended-amax-band-02');
  modelLine(g3, rBotModelA, aBotModel, xf, yA, 'extended-amax-model');
  series(g3, rBot, aBotOrange, xf, yA, C_OR, 'circle', 'extended-amax-005');
  series(g3, rBot, aBotGreen, xf, yA, C_GR, 'diamond', 'extended-amax-001');
  series(g3, rBot, aBotPurple, xf, yA, C_PU, 'square', 'extended-amax-02');

  gapLines(gapBotR, gapBotLabels, [0, 19, 0, 19], xf, P[0][0], P[2][1], 1923, 'extended-gap');
  beams(beamBot, beamBotLabels, 161, [1427, 1473, 1519], (X1 - X0) / 118.5, 19, 'extended');

  P.forEach((p, i) => frame('extended-panel-' + (i + 1), X0, X1, p[0], p[1]));
  yTicksLin(yTicksBotT, X0, yT, 'extended-temp-y');
  yTicksLog(yTicksBotS, X0, yS, -4.77, 1.98, 'extended-sigma-y');
  yTicksLog(yTicksBotA, X0, yA, -3.24, 3.64, 'extended-amax-y');
  xTicksBot.forEach(v => {
    const x = xf(v);
    const tk = mk('line', {x1: x, x2: x, y1: 2196, y2: 2201, stroke: '#333', 'stroke-width': 1.5});
    
    
    const t = mk('text', {x: x, y: 2238, 'font-size': FS_TICK, 'text-anchor': 'middle'});
    
    
    t.textContent = String(v);
  });
  const xl = mk('text', {x: 662, y: 2280, 'font-size': 32, 'text-anchor': 'middle'});
  
  
  xl.textContent = 'Radius [au]';

  yLabel(40, 1365, [{t: 'T', a: {'font-style': 'italic'}}, {t: 'dust', a: {'font-size': 22, dy: 8}}, {t: ' [K]', a: {dy: -8}}], 'extended-temp-y-axis-title');
  yLabel(38, 1697, [{t: 'log(\u03A3'}, {t: 'dust', a: {'font-size': 22, dy: 8}}, {t: '/g cm', a: {dy: -8}}, {t: '\u22122', a: {'font-size': 22, dy: -12}}, {t: ')', a: {dy: 12}}], 'extended-sigma-y-axis-title');
  yLabel(38, 2030, [{t: 'log('}, {t: 'a', a: {'font-style': 'italic'}}, {t: 'max', a: {'font-size': 22, dy: 8}}, {t: '/cm)', a: {dy: -8}}], 'extended-amax-y-axis-title');

  legendT(940, 1216, 217, 204, [
    {model: true, hx0: 952, hx1: 1020, y: 1243, tx: 1047, t: 'Model'},
    {c: C_OR, m: 'circle', hx0: 952, hx1: 1020, y: 1291, tx: 1047, t: '0.05"'},
    {c: C_GR, m: 'diamond', hx0: 952, hx1: 1020, y: 1339, tx: 1047, t: '0.01"'},
    {c: C_PU, m: 'square', hx0: 952, hx1: 1020, y: 1388, tx: 1047, t: '0.2"'}
  ], 'extended-temp-legend');
  legendMass(170, 1548, 989, 65, 1588, 205, '0.13', [
    {m: 'circle', c: C_OR, mx: 533, tx: 557, v: '0.14', up: '+0.05', dn: '\u22120.03'},
    {m: 'diamond', c: C_GR, mx: 758, tx: 785, v: '0.14', up: '+0.08', dn: '\u22120.03'},
    {m: 'square', c: C_PU, mx: 984, tx: 1010, v: '0.15', up: '+0.08', dn: '\u22120.05'}
  ], 'extended-mass-legend');
})();
</script>
</body></html>
